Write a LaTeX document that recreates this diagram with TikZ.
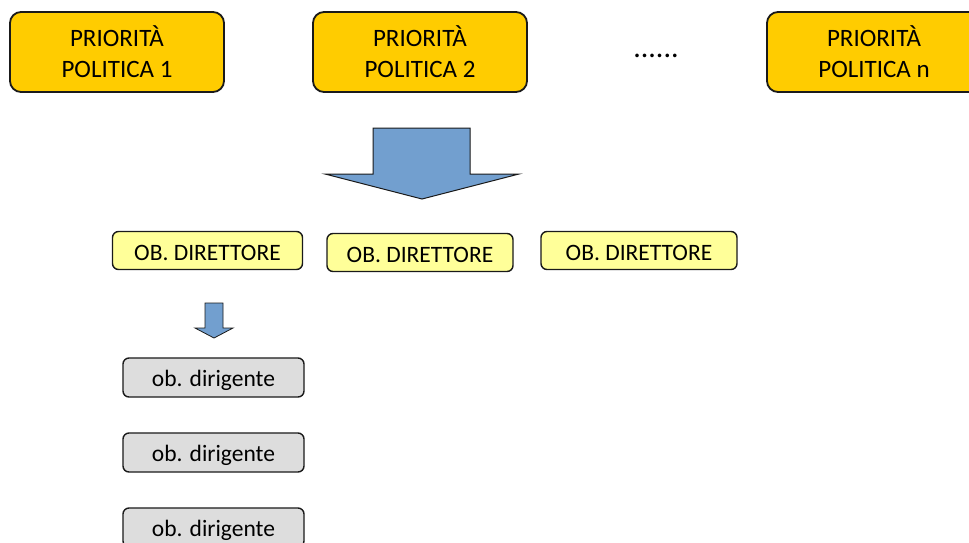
\documentclass[tikz,border=0pt]{standalone}
\usepackage{fontspec}
\setmainfont{Carlito}
\definecolor{gold}{HTML}{FFCC00}
\definecolor{lyellow}{HTML}{FFFF99}
\definecolor{lgrey}{HTML}{DDDDDD}
\definecolor{ablue}{HTML}{729FCF}
\definecolor{edge}{HTML}{1A1A1A}
\tikzset{
  prio/.style={draw=edge, line width=1.8pt, fill=gold, rounded corners=11pt,
    minimum width=214pt, minimum height=80pt, inner sep=0pt,
    align=center, font=\fontsize{25}{31}\selectfont},
  direttore/.style={draw=edge, line width=1.4pt, fill=lyellow, rounded corners=6pt,
    minimum height=38pt, inner sep=0pt, text height=19pt, text depth=0pt,
    font=\fontsize{23.5}{28}\selectfont},
  dirigente/.style={draw=edge, line width=1.4pt, fill=lgrey, rounded corners=6pt,
    minimum width=181pt, minimum height=39pt, inner sep=0pt, text height=18pt, text depth=1pt,
    font=\fontsize{23.5}{28}\selectfont},
  blockarrow/.style={draw=edge, line width=1pt, fill=ablue, line join=miter}
}
\begin{document}
\begin{tikzpicture}[x=1pt,y=-1pt]
\useasboundingbox (0,0) rectangle (969,542);
\clip (0,0) rectangle (969,542);
\fill[white] (0,0) rectangle (969,542);
% priorities
\node[prio] (p1) at (117,52) {PRIORITÀ\\POLITICA 1};
\node[prio] (p2) at (420,52) {PRIORITÀ\\POLITICA 2};
\node[font=\fontsize{30}{36}\selectfont, anchor=base] (dots) at (656,57) {......};
\node[prio] (pn) at (874,52) {PRIORITÀ\\POLITICA n};
% big arrow
\draw[blockarrow] (373,128) -- (470,128) -- (470,174) -- (519,174) -- (422,199)
  -- (325,174) -- (373,174) -- cycle;
% direttore
\node[direttore, minimum width=190pt] (d1) at (207.5,250.5) {OB. DIRETTORE};
\node[direttore, minimum width=186pt, text height=20.5pt] (d2) at (420,252.5) {OB. DIRETTORE};
\node[direttore, minimum width=196pt] (d3) at (639,250.5) {OB. DIRETTORE};
% small arrow
\draw[blockarrow, line width=0.8pt] (205,303) -- (223,303) -- (223,328) -- (233,328) -- (214,338)
  -- (195,328) -- (205,328) -- cycle;
% dirigente
\node[dirigente] (g1) at (213.5,377.5) {ob. dirigente};
\node[dirigente] (g2) at (213.5,452.5) {ob. dirigente};
\node[dirigente] (g3) at (213.5,527.5) {ob. dirigente};
\end{tikzpicture}
\end{document}
